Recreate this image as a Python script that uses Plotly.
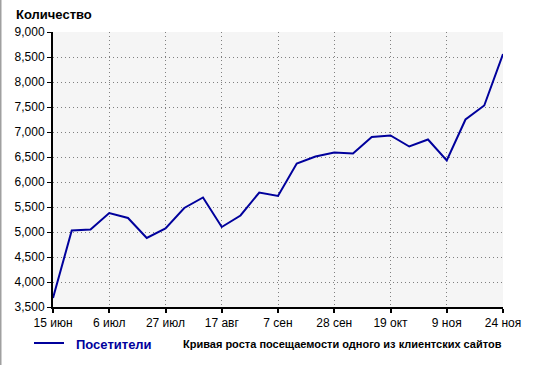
import plotly.graph_objects as go

# Data
week_index = list(range(25))
visitors = [3680, 5030, 5050, 5380, 5280, 4880, 5070, 5480, 5690, 5100,
            5330, 5790, 5720, 6370, 6510, 6590, 6570, 6900, 6930, 6710,
            6850, 6430, 7250, 7530, 8560]
tick_positions = [0, 3, 6, 9, 12, 15, 18, 21, 24]
tick_labels = ["15 июн", "6 июл", "27 июл", "17 авг", "7 сен", "28 сен",
               "19 окт", "9 ноя", "24 ноя"]
y_ticks = [3500, 4000, 4500, 5000, 5500, 6000, 6500, 7000, 7500, 8000, 8500, 9000]

W, H = 543, 365
L, R, T, B = 53, 40, 32, 58
PW = W - L - R
PH = H - T - B
LINE = "#00009c"
FONT = "Liberation Sans, Arial, sans-serif"

def px(xp):
    return (xp - L) / PW

def py(yp):
    return (H - B - yp) / PH

fig = go.Figure()
fig.add_trace(go.Scatter(
    x=week_index, y=visitors, mode="lines",
    line=dict(color=LINE, width=2), name="Посетители",
    showlegend=False, hoverinfo="skip"))

fig.update_layout(
    width=W, height=H,
    margin=dict(l=L, r=R, t=T, b=B),
    paper_bgcolor="white",
    plot_bgcolor="#f5f5f5",
    font=dict(family=FONT, size=12, color="black"),
    xaxis=dict(
        range=[0, 24], tickmode="array", tickvals=tick_positions,
        ticktext=tick_labels, showgrid=True, gridcolor="#808080",
        griddash="1px,3px", gridwidth=1, showline=True, linecolor="black",
        linewidth=2, ticks="outside", ticklen=4, tickwidth=2,
        tickcolor="black", zeroline=False, fixedrange=True,
        tickfont=dict(size=12),
    ),
    yaxis=dict(
        range=[3500, 9000], tickmode="array", tickvals=y_ticks,
        tickformat=",d", showgrid=True, gridcolor="#808080",
        griddash="1px,3px", gridwidth=1, showline=True, linecolor="black",
        linewidth=2, ticks="outside", ticklen=4, tickwidth=1,
        tickcolor="black", zeroline=False, fixedrange=True,
        tickfont=dict(size=12),
    ),
    showlegend=False,
)

annotations = [
    dict(text="<b>Количество</b>", xref="paper", yref="paper",
         x=px(14), y=py(14), xanchor="left", yanchor="middle",
         showarrow=False, font=dict(size=13, color="black")),
    dict(text="<b>Посетители</b>", xref="paper", yref="paper",
         x=px(74), y=py(344), xanchor="left", yanchor="middle",
         showarrow=False, font=dict(size=13, color=LINE)),
    dict(text="<b>Кривая роста посещаемости одного из клиентских сайтов</b>",
         xref="paper", yref="paper", x=px(181), y=py(344),
         xanchor="left", yanchor="middle", showarrow=False,
         font=dict(size=11, color="black")),
]
fig.update_layout(annotations=annotations)

fig.add_shape(type="line", xref="paper", yref="paper",
              x0=px(34), x1=px(64), y0=py(343), y1=py(343),
              line=dict(color=LINE, width=2))
fig.add_shape(type="line", xref="paper", yref="paper",
              x0=px(0.5), x1=px(0.5), y0=py(0), y1=py(H),
              line=dict(color="#a0a0a0", width=2))

fig.write_html("out.html")
